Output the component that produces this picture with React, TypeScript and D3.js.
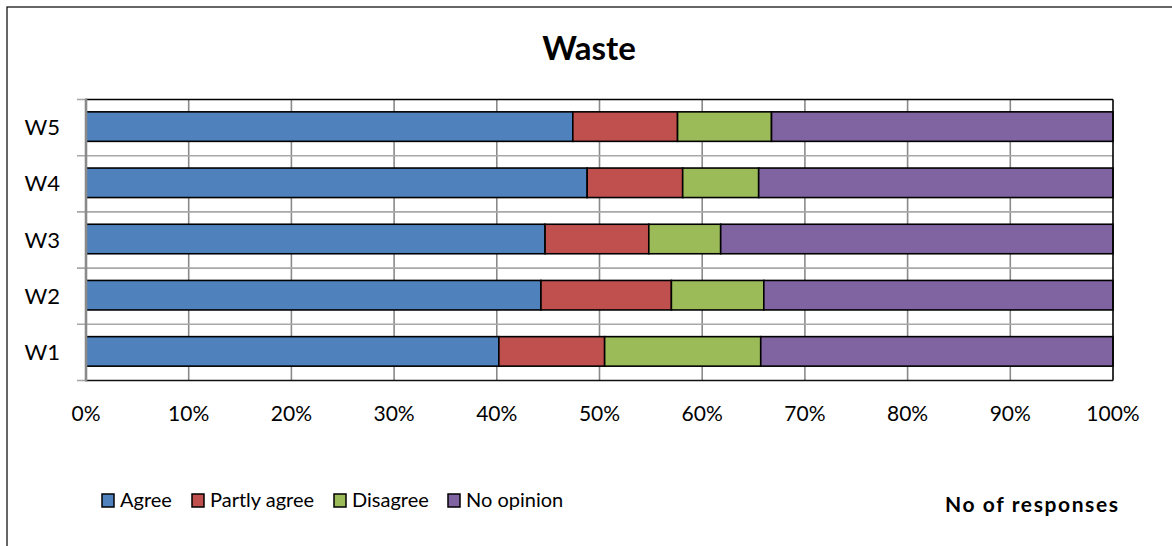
import React from "react";
import * as d3 from "d3";

const categories = ["W5", "W4", "W3", "W2", "W1"];
const seriesNames = ["Agree", "Partly agree", "Disagree", "No opinion"];
const agree = [47.4, 48.8, 44.7, 44.3, 40.2];
const partlyAgree = [10.2, 9.3, 10.1, 12.7, 10.3];
const disagree = [9.15, 7.4, 7.0, 9.0, 15.2];
const noOpinion = [33.25, 34.5, 38.2, 34.0, 34.3];
const seriesColors = ["#4F81BD", "#C0504D", "#9BBB59", "#8064A2"];
const xTicks = [0, 10, 20, 30, 40, 50, 60, 70, 80, 90, 100];
const title = "Waste";
const axisNote = "No of responses";

const W = 1172;
const H = 546;
const FONT = "Lato, 'Open Sans', sans-serif";

export default function App() {
  const left = 86, right = 1113, top = 99.5, bottom = 380.5;
  const x = d3.scaleLinear().domain([0, 100]).range([left, right]);
  const yGrid = d3.scaleBand<string>().domain(categories).range([top, bottom]).padding(0);
  const yBar = d3.scaleBand<string>().domain(categories).range([top, bottom]).paddingInner(0.475).paddingOuter(0.2375);

  const rows = categories.map((c, i) => ({
    cat: c,
    agree: agree[i],
    partly: partlyAgree[i],
    disagree: disagree[i],
    none: noOpinion[i],
  }));
  const keys = ["agree", "partly", "disagree", "none"];
  const stacked = d3.stack<any>().keys(keys).offset(d3.stackOffsetExpand)(rows);

  const legendX = [102, 192, 334, 448];

  return (
    <svg width={W} height={H} style={{ position: "absolute", left: 0, top: 0, background: "#fff" }}>
      <rect x={0} y={0} width={W} height={H} fill="#fff" />
      <rect x={7} y={7} width={W + 20} height={H + 20} fill="none" stroke="#000" strokeWidth={1.2} />
      <text x={589} y={59.5} textAnchor="middle" fontFamily={FONT} fontWeight="bold" fontSize={33}>{title}</text>

      {/* vertical gridlines */}
      {xTicks.slice(1, -1).map((t) => (
        <line key={"vg" + t} x1={x(t)} x2={x(t)} y1={top} y2={bottom} stroke="#8a8a8a" strokeWidth={1.6} />
      ))}
      {/* horizontal gridlines at category boundaries */}
      {categories.slice(1).map((c) => (
        <line key={"hg" + c} x1={left - 9} x2={right} y1={yGrid(c)!} y2={yGrid(c)!} stroke="#a8a8a8" strokeWidth={1.6} />
      ))}
      <line x1={left - 9} x2={left} y1={top} y2={top} stroke="#a8a8a8" strokeWidth={1.6} />
      <line x1={left - 9} x2={left} y1={bottom} y2={bottom} stroke="#a8a8a8" strokeWidth={1.6} />

      {/* bars */}
      {stacked.map((s, si) => (
        <g key={s.key}>
          {s.map((d: any) => (
            <rect
              key={d.data.cat}
              x={x(d[0] * 100)}
              y={yBar(d.data.cat)! - 1}
              width={x(d[1] * 100) - x(d[0] * 100)}
              height={yBar.bandwidth()}
              fill={seriesColors[si]}
              stroke="#000"
              strokeWidth={1.6}
            />
          ))}
        </g>
      ))}

      {/* plot border */}
      <line x1={left} x2={right} y1={top} y2={top} stroke="#000" strokeWidth={1.4} />
      <line x1={right} x2={right} y1={top} y2={bottom} stroke="#000" strokeWidth={1.6} />
      <line x1={left} x2={right} y1={bottom} y2={bottom} stroke="#111" strokeWidth={1.6} />
      <line x1={left} x2={left} y1={top - 1} y2={bottom + 1} stroke="#8a8a8a" strokeWidth={2.6} />

      {/* category labels */}
      {categories.map((c) => (
        <text key={"cl" + c} x={60} y={yGrid(c)! + yGrid.bandwidth() / 2 + 7.5} textAnchor="end" fontFamily={FONT} fontSize={22}>{c}</text>
      ))}

      {/* x tick labels */}
      {xTicks.map((t) => (
        <text key={"xt" + t} x={x(t)} y={421} textAnchor="middle" fontFamily={FONT} fontSize={21}>{t + "%"}</text>
      ))}

      {/* legend */}
      {seriesNames.map((n, i) => (
        <g key={"lg" + n}>
          <rect x={legendX[i]} y={494} width={12} height={13} fill={seriesColors[i]} stroke="#000" strokeWidth={1.5} />
          <text x={legendX[i] + 18} y={507} fontFamily={FONT} fontSize={20}>{n}</text>
        </g>
      ))}

      <text x={945} y={512} textLength={173} lengthAdjust="spacing" fontFamily={FONT} fontWeight="bold" fontSize={21}>{axisNote}</text>
    </svg>
  );
}
